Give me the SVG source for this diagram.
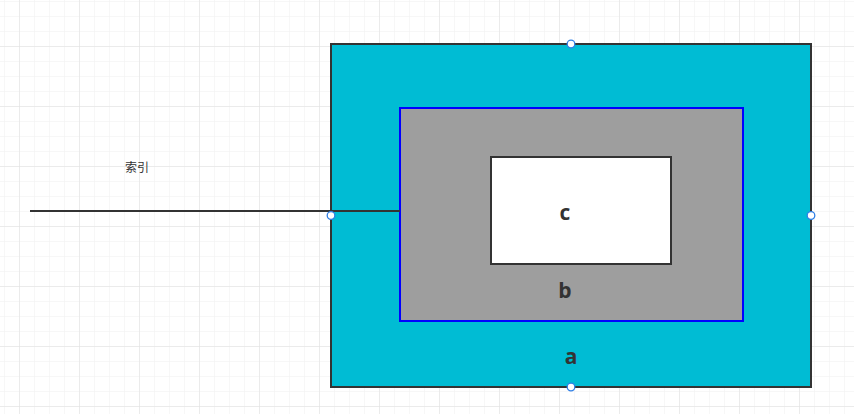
<svg xmlns="http://www.w3.org/2000/svg" width="854" height="414" viewBox="0 0 854 414">
<defs>
<pattern id="minor" x="4" y="1" width="15" height="15" patternUnits="userSpaceOnUse"><path d="M0 0H15M0 0V15" fill="none" stroke="#efefef" stroke-width="1"/></pattern>
<pattern id="major" x="19" y="46" width="60" height="60" patternUnits="userSpaceOnUse"><path d="M0 0H60M0 0V60" fill="none" stroke="#e0e0e0" stroke-width="1"/></pattern>
</defs>
<style>
.lbl{font-family:"Open Sans","Noto Sans","Liberation Sans",sans-serif;font-weight:bold;font-size:21px;fill:#333;text-anchor:middle}
.pt{fill:#fff;stroke:#2f7fe6;stroke-width:1.3}
</style>
<rect width="854" height="414" fill="#fff"/>
<rect width="854" height="414" fill="url(#minor)"/>
<rect width="854" height="414" fill="url(#major)"/>
<g id="node-a"><rect x="331" y="44" width="480" height="343" fill="#00bcd4" stroke="#333" stroke-width="2"/><text class="lbl" x="571" y="364">a</text></g>
<g id="node-b"><rect x="400" y="108" width="343" height="213" fill="#9e9e9e" stroke="#0000ff" stroke-width="2"/><text class="lbl" x="565" y="298">b</text></g>
<g id="node-c"><rect x="491" y="157" width="180" height="107" fill="#fff" stroke="#333" stroke-width="2"/><text class="lbl" x="565" y="220">c</text></g>
<g id="connectors"><line x1="30" y1="211" x2="400" y2="211" stroke="#333" stroke-width="2"/></g>
<g id="label-index"><text x="137" y="172" font-family="'Noto Sans CJK SC',sans-serif" font-size="12" fill="#333" text-anchor="middle">索引</text></g>
<g id="points"><circle class="pt" cx="571" cy="44" r="3.8"/><circle class="pt" cx="331" cy="215.5" r="3.8"/><circle class="pt" cx="811" cy="215.5" r="3.8"/><circle class="pt" cx="571" cy="387" r="3.8"/></g>
</svg>
